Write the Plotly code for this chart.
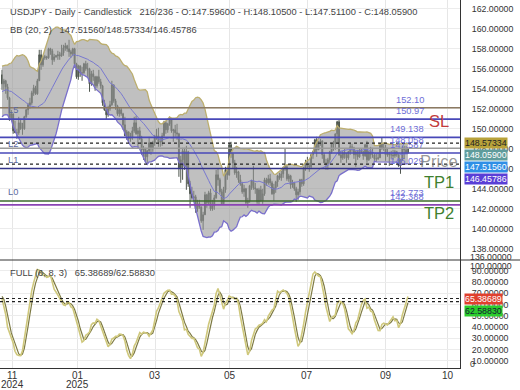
import plotly.graph_objects as go
import numpy as np

# ---------------- data ----------------
# warm-up bars (needed by the indicators, left of the visible range)
warm_high = [152.4,152.5,153.9,153.9,153.9,153.5,153.2,153.0,152.4,154.7,154.7,153.3,153.9,154.8,155.6,156.4,156.7,154.9,155.0,155.9]
warm_low = [151.4,151.6,152.3,152.9,152.8,151.8,151.8,151.8,151.3,151.6,152.6,152.1,152.5,153.6,154.3,155.4,153.9,153.8,153.3,154.5]
warm_close = [151.8,152.3,153.3,153.4,153.4,152.0,152.9,152.0,151.6,154.6,152.9,152.6,153.7,154.6,155.5,156.3,154.3,154.6,154.6,155.4]

opens = [
 155.4,154.5,154.8,154.2,153.1,151.1,151.5,
 149.8,149.6,149.6,150.6,150.0,150.0,151.2,151.9,152.4,152.6,153.6,154.1,153.5,154.8,157.4,156.4,157.1,157.2,157.1,158.0,157.8,156.9,
 157.2,157.3,157.4,157.3,157.6,158.1,158.3,158.0,157.7,157.5,158.0,156.5,155.2,156.3,155.6,155.6,156.5,156.0,156.0,154.5,155.5,155.2,154.3,
 155.2,154.7,154.3,152.6,151.9,151.4,152.0,152.4,154.4,152.8,152.3,151.5,151.9,151.5,150.4,149.3,149.7,149.0,149.1,149.8,
 150.6,149.5,149.8,149.0,147.9,148.0,147.2,147.8,148.6,148.0,148.6,149.2,149.3,148.7,148.7,149.3,150.6,149.9,150.5,151.0,149.8,
 149.9,149.6,149.5,146.1,146.9,147.8,146.2,147.7,144.5,143.5,143.1,143.2,142.0,142.5,142.2,140.8,141.4,143.4,142.6,143.6,142.0,142.3,
 143.1,145.4,144.9,143.7,142.5,143.9,145.9,145.4,148.4,147.5,146.6,145.6,145.7,144.9,144.5,143.7,144.0,142.6,142.8,144.3,144.8,144.1,
 144.0,142.7,143.9,142.8,143.5,144.9,144.6,145.0,144.6,143.5,144.1,144.7,145.3,145.1,145.5,146.1,146.2,145.0,145.3,144.4,144.6,
 144.0,143.4,143.7,144.9,144.5,146.1,146.6,146.3,146.2,147.4,147.7,148.9,147.9,148.6,148.8,147.4,146.6,146.5,146.9,147.7,148.5,148.5,149.5,
 150.7,147.4,147.1,147.6,147.4,147.1,147.7,148.2,148.1,147.4,147.7,147.2,147.9,147.7,147.3,148.4,146.9,147.7,147.4,147.4,147.0,
 147.0,147.1,148.5,148.1,148.1,147.4,147.5,147.4,147.4,147.3,147.7,147.4,146.3,146.9,148.1,147.9,147.596]
highs = [
 155.9,155.0,154.9,154.5,153.2,151.9,151.5,
 150.8,150.0,151.2,151.0,150.6,151.3,152.0,152.6,153.1,153.8,154.4,154.3,155.0,157.9,157.9,157.3,157.4,157.3,158.1,158.1,158.0,157.5,
 157.4,157.8,157.7,158.4,158.4,158.6,158.4,158.9,157.9,158.1,158.1,156.6,156.4,156.3,156.2,156.6,156.8,156.6,156.1,155.8,155.9,155.3,155.3,
 155.9,155.0,154.4,152.9,152.0,152.3,152.8,154.8,154.4,153.0,152.4,152.1,152.1,151.6,151.2,149.9,149.7,149.6,150.2,151.2,
 151.3,150.1,150.2,149.3,148.3,148.1,147.9,149.2,148.7,148.8,149.4,150.0,150.1,149.2,149.6,150.8,150.8,150.6,151.2,151.1,150.0,
 150.4,150.5,149.6,147.3,148.1,148.1,148.3,147.8,144.8,144.2,143.8,143.4,142.9,142.9,142.2,141.7,143.7,143.5,143.8,144.0,142.9,143.4,
 145.9,146.0,145.1,144.0,144.2,146.2,146.2,148.6,148.7,147.6,146.9,146.2,145.8,145.4,144.7,144.4,144.1,143.1,144.4,144.9,146.3,144.6,
 144.0,144.1,144.3,144.0,145.1,145.1,145.4,145.5,144.8,144.5,144.8,145.4,145.6,145.8,146.2,148.0,146.4,145.5,145.4,144.9,144.7,
 144.2,144.0,145.0,145.0,146.2,146.9,147.2,146.6,147.5,147.8,149.0,149.2,148.8,149.0,148.8,147.6,147.0,147.1,147.8,148.6,148.8,149.5,150.8,
 150.9,147.8,147.8,148.0,147.6,147.8,148.5,148.5,148.2,147.8,147.9,148.0,148.0,147.8,148.5,148.8,147.8,148.2,148.1,147.5,147.5,
 147.6,148.6,149.1,148.6,148.4,148.1,147.7,147.8,147.9,147.9,147.8,147.5,147.0,148.3,148.3,148.3,148.105]
lows = [
 153.9,153.9,153.5,152.9,150.8,151.0,149.5,
 149.6,149.0,149.4,149.9,149.4,149.9,151.1,151.4,152.0,152.4,153.3,153.4,153.4,154.8,155.9,156.2,156.9,156.9,157.0,157.4,156.4,156.7,
 157.1,156.9,156.9,157.2,157.3,157.8,157.7,157.2,157.1,157.3,156.1,155.0,154.9,155.2,154.8,155.5,155.8,155.2,153.7,154.3,154.8,153.8,154.1,
 154.5,154.0,152.3,151.8,150.9,151.2,151.8,152.3,152.6,151.9,151.3,151.2,151.3,149.9,149.3,148.9,148.6,148.7,148.9,149.6,
 149.4,148.1,148.9,147.4,146.9,146.7,146.5,147.5,147.4,147.7,148.3,148.9,148.2,148.2,148.3,149.2,149.5,149.6,150.3,149.6,148.7,
 149.2,148.9,145.2,144.6,144.9,145.9,143.9,144.2,142.1,142.9,142.8,141.6,141.7,142.0,140.6,139.9,141.4,142.1,142.4,141.8,141.8,141.9,
 143.0,144.3,143.5,142.4,142.4,143.6,144.9,145.3,147.1,146.0,145.4,145.1,144.6,144.3,143.5,143.2,142.4,142.1,142.6,143.9,143.9,143.5,
 142.5,142.4,142.7,142.5,143.3,144.3,144.4,144.3,143.4,142.8,143.6,144.2,144.9,144.8,145.1,145.8,144.8,144.7,144.0,144.1,143.8,
 142.7,142.9,143.4,144.2,144.3,145.8,146.0,145.7,146.0,147.0,147.6,147.2,147.9,148.3,147.0,146.6,145.9,145.9,146.6,147.5,147.8,147.9,148.5,
 147.3,146.6,146.9,147.0,146.6,146.9,147.4,147.7,147.0,146.2,146.9,147.1,147.5,146.9,147.2,146.6,146.8,147.0,147.1,146.8,146.7,
 146.9,147.1,147.9,147.8,146.8,147.2,146.3,147.0,146.9,147.1,147.2,146.2,145.5,146.8,147.0,147.5,147.511]
closes = [
 154.5,154.8,154.2,153.1,151.1,151.5,149.8,
 149.6,149.6,150.6,150.0,150.0,151.2,151.9,152.4,152.6,153.6,154.1,153.5,154.8,157.4,156.4,157.1,157.2,157.1,158.0,157.8,156.9,157.2,
 157.3,157.4,157.3,157.6,158.1,158.3,158.0,157.7,157.5,158.0,156.5,155.2,156.3,155.6,155.6,156.5,156.0,156.0,154.5,155.5,155.2,154.3,155.2,
 154.7,154.3,152.6,151.9,151.4,152.0,152.4,154.4,152.8,152.3,151.5,151.9,151.5,150.4,149.3,149.7,149.0,149.1,149.8,150.6,
 149.5,149.8,149.0,147.9,148.0,147.2,147.8,148.6,148.0,148.6,149.2,149.3,148.7,148.7,149.3,150.6,149.9,150.5,151.0,149.8,149.9,
 149.6,149.5,146.1,146.9,147.8,146.2,147.7,144.5,143.5,143.1,143.2,142.0,142.5,142.2,140.8,141.4,143.4,142.6,143.6,142.0,142.3,143.1,
 145.4,144.9,143.7,142.5,143.9,145.9,145.4,148.4,147.5,146.6,145.6,145.7,144.9,144.5,143.7,144.0,142.6,142.8,144.3,144.8,144.1,144.0,
 142.7,143.9,142.8,143.5,144.9,144.6,145.0,144.6,143.5,144.1,144.7,145.3,145.1,145.5,146.1,146.2,145.0,145.3,144.4,144.6,144.0,
 143.4,143.7,144.9,144.5,146.1,146.6,146.3,146.2,147.4,147.7,148.9,147.9,148.6,148.8,147.4,146.6,146.5,146.9,147.7,148.5,148.5,149.5,150.7,
 147.4,147.1,147.6,147.4,147.1,147.7,148.2,148.1,147.4,147.7,147.2,147.9,147.7,147.3,148.4,146.9,147.7,147.4,147.4,147.0,147.0,
 147.1,148.5,148.1,148.1,147.4,147.5,147.4,147.4,147.3,147.7,147.4,146.3,146.9,148.1,147.9,147.6,148.059]

# x-axis month labels (bar-index positions as placed by the source chart)
tick_pos = [5.9, 40.8, 82.2, 122.4, 163.8, 206.2, 239.5]
tick_month = ["11", "01", "03", "05", "07", "09", "10"]
tick_year = ["2024", "2025", "", "", "", "", ""]

# horizontal levels drawn on the price panel
level_vals = [152.10, 150.97, 149.138, 148.058, 147.587, 146.029, 142.773, 142.388]
level_text = ["152.10", "150.97", "149.138", "148.058", "147.587", "146.029", "142.773", "142.388"]
level_color = ["#8c7a62", "#4848b8", "#4848b8", "#9a9a9a", "#4848b8", "#34348a", "#3c6a2c", "#8a44b4"]
left_tags = {"L5": 150.97, "L2": 147.587, "L1": 146.029, "L0": 142.773}
big_tags = [("SL", 150.78, "#c23b3b"), ("Price", 146.78, "rgba(120,120,120,0.75)"),
            ("TP1", 144.68, "#3f7f2f"), ("TP2", 141.58, "#3f7f2f")]

title_main = "USDJPY - Daily - Candlestick   216/236 - O:147.59600 - H:148.10500 - L:147.51100 - C:148.05900"
bb_vals = [147.51560, 148.57334, 146.45786]
stoch_vals = [65.38689, 62.58830]

price_ticks = list(range(138, 163, 2))
stoch_ticks = list(range(10, 91, 10))

# ---------------- indicators ----------------
all_c = np.array(warm_close + closes)
all_h = np.array(warm_high + highs)
all_l = np.array(warm_low + lows)
nw = len(warm_close)
n = len(closes)

def sma(a, p):
    out = np.full(len(a), np.nan)
    for k in range(p - 1, len(a)):
        out[k] = a[k - p + 1:k + 1].mean()
    return out

mid = sma(all_c, 20)
sd = np.array([all_c[k - 19:k + 1].std() if k >= 19 else np.nan for k in range(len(all_c))])
upper = mid + 2 * sd
lower = mid - 2 * sd

fastk = np.full(len(all_c), 50.0)
for k in range(5, len(all_c)):
    hh = all_h[k - 5:k + 1].max(); ll = all_l[k - 5:k + 1].min()
    fastk[k] = 100 * (all_c[k] - ll) / (hh - ll)
fullk = sma(fastk, 8)
dline = sma(np.nan_to_num(fullk, nan=50), 3)

vis = slice(nw, None)
x = np.arange(n)

# ---------------- figure ----------------
W, H = 520, 390
PW, PH = 460, 368
split = 260
def pxx(v): return v / PW
def pyy(v): return 1 - v / PH

FS = 9.3
fig = go.Figure()
fig.add_trace(go.Scatter(x=x, y=upper[vis], mode="lines", line=dict(color="#bcae6e", width=1.3),
                         hoverinfo="skip", showlegend=False))
fig.add_trace(go.Scatter(x=x, y=lower[vis], mode="lines", line=dict(color="#7a70cc", width=1.3),
                         fill="tonexty", fillcolor="rgba(150,150,150,0.6)", hoverinfo="skip", showlegend=False))
fig.add_trace(go.Scatter(x=x, y=mid[vis], mode="lines", line=dict(color="#7878d0", width=1),
                         hoverinfo="skip", showlegend=False))
fig.add_trace(go.Candlestick(x=x, open=opens, high=highs, low=lows, close=closes,
                             increasing=dict(line=dict(color="#4e564e", width=1), fillcolor="#4e564e"),
                             decreasing=dict(line=dict(color="#4e564e", width=1), fillcolor="#4e564e"),
                             whiskerwidth=0, showlegend=False, xaxis="x", yaxis="y"))
fig.add_trace(go.Scatter(x=x, y=dline[vis], mode="lines", line=dict(color="#7d7a44", width=1.2),
                         xaxis="x2", yaxis="y2", showlegend=False))
fig.add_trace(go.Scatter(x=x, y=fullk[vis], mode="lines", line=dict(color="#cfc87c", width=1.6),
                         xaxis="x2", yaxis="y2", showlegend=False))

shapes = []
for v, c in zip(level_vals, level_color):
    shapes.append(dict(type="line", xref="paper", x0=0, x1=1, yref="y", y0=v, y1=v,
                       line=dict(color=c, width=1.6), layer="above"))
for v in bb_vals[1:]:
    shapes.append(dict(type="line", xref="paper", x0=0, x1=1, yref="y", y0=v, y1=v,
                       line=dict(color="#222", width=1.2, dash="3px,3px"), layer="above"))
for v in stoch_vals:
    shapes.append(dict(type="line", xref="paper", x0=0, x1=1, yref="y2", y0=v, y1=v,
                       line=dict(color="#222", width=1.2, dash="3px,3px"), layer="above"))
# panel separator running under the axis labels
shapes.append(dict(type="line", xref="paper", x0=0, x1=W / PW, yref="paper", y0=pyy(split), y1=pyy(split),
                   line=dict(color="#333", width=1)))

ann = []
def txt(t, xx, yy, size=FS, color="#444", anchor="left", **kw):
    d = dict(text=t, x=pxx(xx), y=pyy(yy), xref="paper", yref="paper", xanchor=anchor,
             yanchor="middle", showarrow=False, font=dict(size=size, color=color))
    d.update(kw)
    ann.append(d)

txt(title_main, 8, 12)
txt("BB (20, 2)   " + "/".join(f"{v:.5f}" for v in bb_vals), 8, 30)
txt("FULL (6, 8, 3)   " + "/".join(f"{v:.5f}" for v in stoch_vals), 8, 273)
for v, t in zip(level_vals, level_text):
    ann.append(dict(text=t, x=pxx(426), y=v, xref="paper", yref="y", xanchor="right", yanchor="bottom",
                    yshift=1, showarrow=False, font=dict(size=FS, color="#6d6dd6")))
for t, v in left_tags.items():
    ann.append(dict(text=t, x=pxx(6), y=v, xref="paper", yref="y", xanchor="left", yanchor="bottom",
                    yshift=2, showarrow=False, font=dict(size=FS, color="#5a68a0")))
for t, v, c in big_tags:
    ann.append(dict(text=t, x=pxx(439), y=v, xref="paper", yref="y", xanchor="center", yanchor="middle",
                    showarrow=False, font=dict(size=16.5, color=c)))
# value boxes on the price axis
boxes = [(f"{bb_vals[1]:.5f}", "#b8a23a", "#222"), (f"{closes[-1]:.5f}", "#5f9c9c", "#fff"),
         (f"{bb_vals[0]:.5f}", "#2f8fe6", "#fff"), (f"{bb_vals[2]:.5f}", "#5a3fd6", "#fff")]
for k, (t, bg, fc) in enumerate(boxes):
    txt(t, 464, 143 + 12 * k, size=8.8, color=fc, bgcolor=bg, borderpad=0)
sboxes = [(f"{stoch_vals[0]:.5f}", "#e0402e", "#fff"), (f"{stoch_vals[1]:.5f}", "#2ccc2c", "#123")]
for k, (t, bg, fc) in enumerate(sboxes):
    txt(t, 464, 299 + 12 * k, size=8.8, color=fc, bgcolor=bg, borderpad=0)
# clamped edge labels
for t, yy in [("136.00000", 257), ("100.00000", 266), ("0", 364)]:
    txt(t, 468, yy, size=8.8, color="#333")
# x-axis month / year labels
for p, m, yv in zip(tick_pos, tick_month, tick_year):
    ann.append(dict(text=m, x=p, y=pyy(375), xref="x2", yref="paper", xanchor="center",
                    yanchor="middle", showarrow=False, font=dict(size=10, color="#333")))
    if yv:
        ann.append(dict(text=yv, x=p, y=pyy(384), xref="x2", yref="paper", xanchor="center",
                        yanchor="middle", showarrow=False, font=dict(size=10, color="#333")))

dom_split = pyy(split)
xr = [-1.074, 245.96]
fig.update_layout(
    width=W, height=H, margin=dict(l=0, r=W - PW, t=0, b=H - PH, autoexpand=False),
    paper_bgcolor="white", plot_bgcolor="white",
    font=dict(family="Liberation Sans, Arial, sans-serif", size=10, color="#333"),
    showlegend=False, shapes=shapes, annotations=ann,
    xaxis=dict(domain=[0, 1], range=xr, anchor="y", tickvals=tick_pos, showticklabels=False,
               showgrid=True, gridcolor="#e6e6e6", zeroline=False, automargin=False,
               rangeslider=dict(visible=False), fixedrange=True),
    yaxis=dict(domain=[dom_split, 1], range=[136.88, 162.88], side="right", tickvals=price_ticks,
               tickformat=".5f", showgrid=True, gridcolor="#ececec", zeroline=False, showline=True,
               linecolor="#333", linewidth=1, ticks="", ticklabelstandoff=9, automargin=False,
               tickfont=dict(size=8.8)),
    xaxis2=dict(domain=[0, 1], range=xr, anchor="y2", tickvals=tick_pos, showticklabels=False,
                showgrid=True, gridcolor="#e6e6e6", zeroline=False, showline=True, linecolor="#333",
                ticks="", automargin=False),
    yaxis2=dict(domain=[0, dom_split], range=[3.6, 99.6], side="right", anchor="x2", tickvals=stoch_ticks,
                tickformat=".5f", showgrid=True, gridcolor="#ececec", zeroline=False, showline=True,
                linecolor="#333", linewidth=1, ticks="", ticklabelstandoff=9, automargin=False,
                tickfont=dict(size=8.8)),
)
fig.write_html("out.html", config={"displayModeBar": False},
               post_script="document.body.style.margin='0';document.body.style.overflow='hidden';")
